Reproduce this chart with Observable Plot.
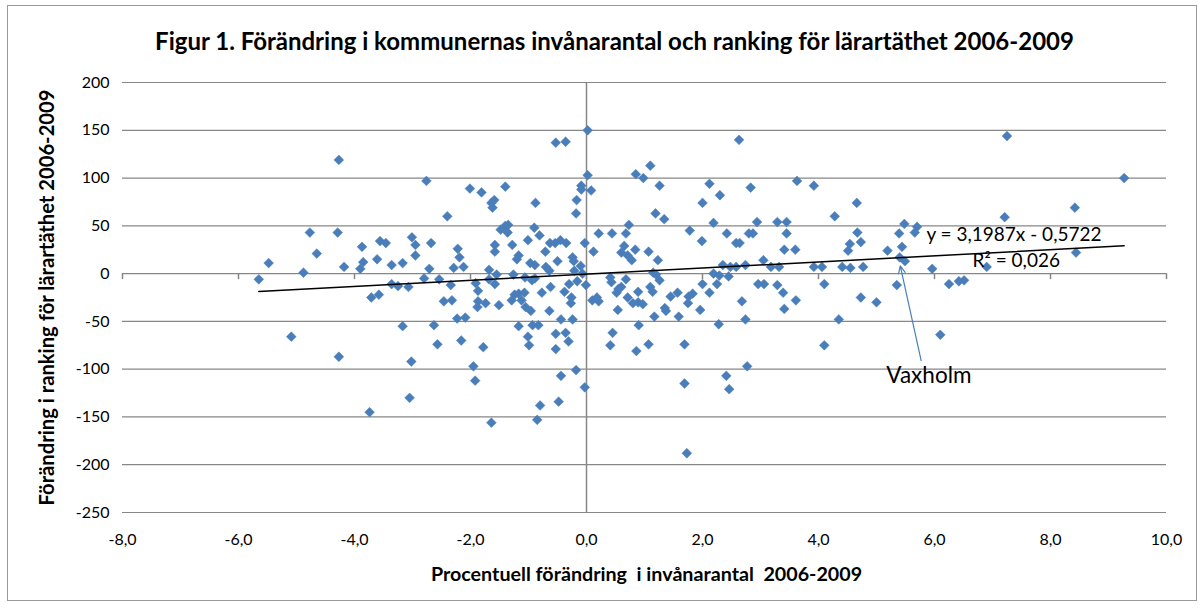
<!DOCTYPE html>
<html><head><meta charset="utf-8">
<script src="https://cdn.jsdelivr.net/npm/d3@7"></script>
<script src="https://cdn.jsdelivr.net/npm/@observablehq/plot@0.6"></script>
<style>
body{margin:0;background:#fff;}
#wrap{position:relative;width:1204px;height:608px;overflow:hidden;}
#frame{position:absolute;left:7px;top:5px;width:1190px;height:596px;border:1px solid #9a9a9a;box-sizing:border-box;pointer-events:none;}
#chart{position:absolute;left:0;top:0;}
</style></head><body>
<div id="wrap"><div id="chart"></div><div id="frame"></div></div>
<script>
// Percent change in population 2006-2009 (x) and change in ranking (y)
const pctChange = [
-5.65,-5.48,-5.09,-4.88,-4.77,-4.65,-4.27,-4.29,-4.27,-4.18,-3.9,-3.87,-3.85,-3.74,-3.71,-3.58,-3.61,-3.56,-3.46,-3.36,
-3.36,-3.25,-3.17,-3.17,-3.05,-3.02,-3.07,-3.01,-2.95,-2.95,-2.8,-2.76,-2.71,-2.68,-2.63,-2.57,-2.54,-2.46,-2.4,-2.34,
-2.32,-2.29,-2.23,-2.22,-2.19,-2.16,-2.12,-2.09,-2.01,-1.95,-1.92,-1.91,-1.87,-1.87,-1.88,-1.81,-1.78,-1.74,-1.68,-1.68,
-1.64,-1.64,-1.62,-1.59,-1.58,-1.58,-1.58,-1.55,-1.51,-1.48,-1.4,-1.4,-1.35,-1.36,-1.28,-1.26,-1.29,-1.24,-1.2,-1.17,
-1.17,-1.17,-1.12,-1.07,-1.05,-1.06,-1.01,-1.01,-0.99,-0.97,-0.96,-0.94,-0.93,-0.9,-0.89,-0.89,-0.88,-0.85,-0.83,-0.81,
-0.8,-0.77,-0.71,-0.7,-0.64,-0.64,-0.63,-0.62,-0.54,-0.53,-0.53,-0.53,-0.5,-0.48,-0.45,-0.44,-0.44,-0.38,-0.36,-0.36,
-0.35,-0.31,-0.3,-0.27,-0.26,-0.24,-0.24,-0.22,-0.21,-0.18,-0.18,-0.17,-0.16,-0.1,-0.09,-0.09,-0.07,-0.03,-0.03,-0.01,
0.02,0.02,0.08,0.1,0.12,0.18,0.21,0.21,
0.41,0.43,0.41,0.44,0.45,0.52,0.54,0.55,0.6,0.6,0.65,0.68,0.68,0.71,0.71,0.73,0.78,0.8,0.84,0.85,
0.86,0.89,0.89,0.9,0.97,0.98,1.07,1.07,1.1,1.1,1.14,1.15,1.2,1.17,1.19,1.23,1.26,1.26,1.34,1.35,
1.37,1.45,1.57,1.59,1.69,1.69,1.73,1.75,1.76,1.78,1.83,1.96,1.99,2.0,2.0,2.12,2.12,2.19,2.19,2.25,
2.28,2.29,2.3,2.35,2.41,2.42,2.45,2.46,2.48,2.58,2.58,2.63,2.64,2.68,2.74,2.74,2.77,2.8,2.83,2.87,
2.94,2.96,3.05,3.06,3.18,3.29,3.29,3.32,3.39,3.41,3.41,3.45,3.45,3.6,3.61,3.63,3.92,3.92,4.06,4.1,
4.1,4.28,4.35,4.41,4.51,4.54,4.55,4.66,4.67,4.73,4.73,4.77,5.0,5.19,5.35,5.39,5.4,5.44,5.48,5.49,
5.66,5.7,5.96,6.1,6.25,6.42,6.51,6.9,7.21,7.25,8.42,8.44,9.27
];
const rankChange = [
-6,11,-66,1,43,21,119,43,-87,7,5,28,12,-145,-25,-22,15,34,32,9,
-11,-13,11,-55,-130,-92,-14,38,30,19,-5,97,5,32,-54,-74,-6,-29,60,-12,
-28,6,-47,26,17,-70,7,-46,89,-97,-112,-10,-18,-29,-35,85,-77,-31,4,-6,
74,-156,69,77,30,23,-11,-1,-33,46,91,50,51,43,30,-1,-28,-22,15,19,
-21,-55,-28,-20,-35,-4,35,-66,-75,11,-39,-7,-54,48,9,-5,74,-153,-54,40,
-138,-20,23,7,3,-39,32,-14,32,137,-63,-79,13,-134,35,-48,-107,-19,138,-62,
32,-71,-11,-31,-25,17,-48,13,3,63,-101,77,-8,8,92,88,0,32,-119,-12,
150,103,87,-28,23,-25,42,-29,
-4,-9,-75,42,-62,-20,-38,-16,22,-14,29,42,-6,19,-25,51,14,-31,25,104,
-81,-19,-30,-54,-32,100,23,-74,113,-14,-19,1,-1,-45,63,14,92,-7,57,-36,
-39,-24,-20,-45,-74,-115,-188,-31,-24,45,-21,-38,34,74,-11,94,-20,53,0,-11,
-53,-2,82,9,-107,42,-3,-121,7,32,7,140,32,-29,9,-48,-97,42,90,42,
54,-11,14,-11,7,54,-12,7,-20,25,-37,54,42,25,-28,97,92,7,7,-11,
-75,60,-48,7,24,31,6,74,43,33,-25,7,-30,24,-12,42,17,28,52,13,
43,49,5,-64,-11,-8,-7,7,59,144,69,22,100
];
const xTicks = [-8,-6,-4,-2,0,2,4,6,8,10];
const yTicks = [-250,-200,-150,-100,-50,0,50,100,150,200];
const trendSlope = 3.1987, trendIntercept = -0.5722;
const trendRange = [-5.65, 9.27];

const titleText = "Figur 1. Förändring i kommunernas invånarantal och ranking för lärartäthet 2006-2009";
const xLabel = "Procentuell förändring  i invånarantal  2006-2009";
const yLabel = "Förändring i ranking för lärartäthet 2006-2009";
const eqLabel = "y = 3,1987x - 0,5722";
const r2Label = "R² = 0,026";
const calloutLabel = "Vaxholm";

const points = pctChange.map((x, i) => ({x, y: rankChange[i]}));
const trend = trendRange.map(x => ({x, y: trendSlope * x + trendIntercept}));
const blue = "#4A7EBB";
const grid = "#878787";
const font = "Lato, 'Liberation Sans', sans-serif";

const chart = Plot.plot({
  width: 1204, height: 608,
  marginLeft: 122, marginRight: 38, marginTop: 82, marginBottom: 96,
  style: {fontFamily: font, background: "transparent", color: "#000"},
  x: {domain: [-8, 10], label: null},
  y: {domain: [-250, 200], label: null},
  marks: [
    Plot.ruleY(yTicks, {stroke: grid, strokeWidth: 1.2}),
    Plot.ruleX([0], {stroke: grid, strokeWidth: 1.5}),
    Plot.ruleX(xTicks, {y1: 0, y2: 0, insetBottom: -6, stroke: grid, strokeWidth: 1.5}),
    Plot.axisX({ticks: xTicks, tickSize: 0, tickPadding: 21, fontSize: 16,
      tickFormat: d => d.toFixed(1).replace(".", ","), label: null}),
    Plot.axisY({ticks: yTicks, tickSize: 0, tickPadding: 13, fontSize: 16,
      tickFormat: d => String(d), label: null}),
    Plot.dot(points, {x: "x", y: "y", symbol: "diamond2", r: 4.4, fill: blue, stroke: blue, strokeWidth: 0.5}),
    Plot.line(trend, {x: "x", y: "y", stroke: "#000", strokeWidth: 1.5}),
    Plot.arrow([{x1: 5.77, y1: -91, x2: 5.41, y2: 8}], {x1: "x1", y1: "y1", x2: "x2", y2: "y2",
      stroke: blue, strokeWidth: 1.2, headLength: 10, headAngle: 50}),
    Plot.text([calloutLabel], {text: d => d, x: 5.17, y: -107, textAnchor: "start", fontSize: 22.5, fill: "#000"}),
    Plot.text([eqLabel], {text: d => d, x: 7.37, y: 40, fontSize: 19, fill: "#000"}),
    Plot.text([r2Label], {text: d => d, x: 7.41, y: 13.5, fontSize: 19, fill: "#000"}),
    Plot.text([titleText], {text: d => d, frameAnchor: "top", textAnchor: "middle", lineAnchor: "middle",
      dx: -30, dy: -40, fontSize: 24, fontWeight: "bold", fill: "#000"}),
    Plot.text([xLabel], {text: d => d, frameAnchor: "bottom", textAnchor: "middle", lineAnchor: "middle",
      dx: 2, dy: 62, fontSize: 19.7, fontWeight: "bold", fill: "#000"}),
    Plot.text([yLabel], {text: d => d, frameAnchor: "left", textAnchor: "middle", lineAnchor: "middle",
      rotate: -90, dx: -75, fontSize: 20.2, fontWeight: "bold", fill: "#000"})
  ]
});
document.getElementById("chart").appendChild(chart);
</script>
</body></html>
